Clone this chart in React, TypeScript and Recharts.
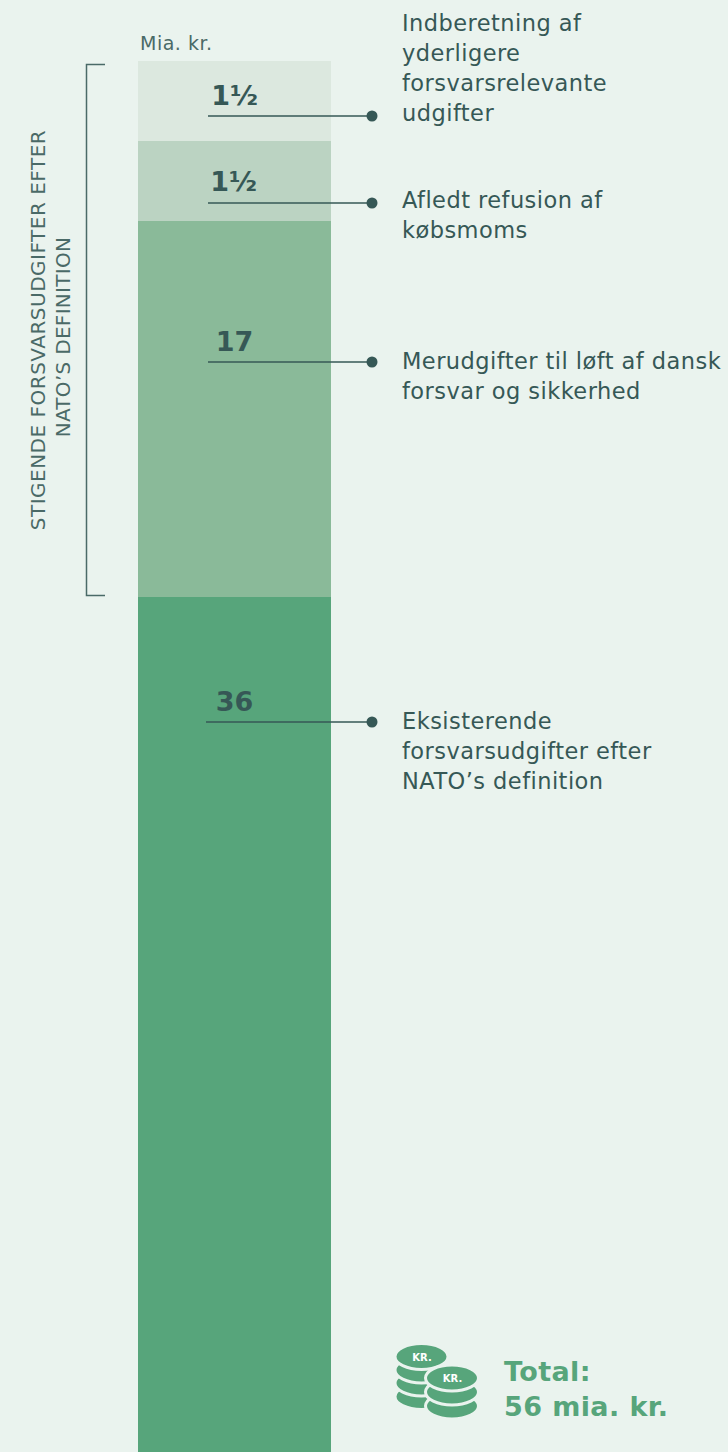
import { BarChart, Bar, XAxis, YAxis, LabelList } from 'recharts';

const categories = ['Forsvarsudgifter'];
const existing = [36];
const additional = [17];
const refund = [1.5];
const reported = [1.5];
const total = 56;

const valueLabels = { existing: '36', additional: '17', refund: '1½', reported: '1½' };
const noteLines = {
  existing: ['Eksisterende', 'forsvarsudgifter efter', 'NATO’s definition'],
  additional: ['Merudgifter til løft af dansk', 'forsvar og sikkerhed'],
  refund: ['Afledt refusion af', 'købsmoms'],
  reported: ['Indberetning af', 'yderligere', 'forsvarsrelevante', 'udgifter'],
};
const bracketLines = ['STIGENDE FORSVARSUDGIFTER EFTER', 'NATO’S DEFINITION'];

const data = categories.map((name, i) => ({
  name,
  existing: existing[i],
  additional: additional[i],
  refund: refund[i],
  reported: reported[i],
}));

const BG = '#eaf3ee';
const DARK = '#365856';
const SOFT = '#4a6a67';
const GREEN = '#57a57b';
const FONT = '"DejaVu Sans", sans-serif';

// the original graphic is not drawn to scale: small segments are stretched
const scaleStops = [0, 36, 53, 54.5, 56];
const scaleShares = [0, 855 / 1391, 1231 / 1391, 1311 / 1391, 1];

function makeScale(dom: number[] = [0, total], rng: number[] = [1, 0]) {
  const scale: any = (v: number) => {
    let i = 0;
    while (i < scaleStops.length - 2 && v > scaleStops[i + 1]) i++;
    const t = (v - scaleStops[i]) / (scaleStops[i + 1] - scaleStops[i]);
    const share = scaleShares[i] + t * (scaleShares[i + 1] - scaleShares[i]);
    return rng[0] + (rng[1] - rng[0]) * share;
  };
  scale.domain = (d?: number[]) => (d ? makeScale(d, rng) : dom);
  scale.range = (r?: number[]) => (r ? makeScale(dom, r) : rng);
  scale.copy = () => makeScale(dom, rng);
  scale.ticks = () => scaleStops;
  return scale;
}

type Key = keyof typeof valueLabels;

// offsets from the top of each segment, pixels
const annotationLayout: Record<Key, { line: number; value: number; start: number; dx: number; note: number }> = {
  reported: { line: 55, value: 44, start: 208, dx: 0, note: -30 },
  refund: { line: 62, value: 50, start: 208, dx: -1, note: 67 },
  additional: { line: 141, value: 130, start: 208, dx: 0, note: 148 },
  existing: { line: 125, value: 114, start: 206, dx: 0, note: 132 },
};

function annotation(key: Key) {
  return (props: any) => {
    const { x, y, width } = props;
    const a = annotationLayout[key];
    const lineY = y + a.line;
    return (
      <g>
        <text
          x={x + width / 2 + a.dx}
          y={y + a.value}
          textAnchor="middle"
          fontFamily={FONT}
          fontWeight="bold"
          fontSize={27}
          fill={DARK}
        >
          {valueLabels[key]}
        </text>
        <line x1={a.start} x2={372} y1={lineY} y2={lineY} stroke={DARK} strokeWidth={1.5} />
        <circle cx={372} cy={lineY} r={5.5} fill={DARK} />
        {noteLines[key].map((t, i) => (
          <text
            key={t}
            x={402}
            y={y + a.note + i * 30}
            fontFamily={FONT}
            fontSize={22.5}
            letterSpacing={0.45}
            fill={DARK}
          >
            {t}
          </text>
        ))}
      </g>
    );
  };
}

function Coin({ cx, cy }: { cx: number; cy: number }) {
  return <ellipse cx={cx} cy={cy} rx={26.5} ry={13} fill={GREEN} stroke={BG} strokeWidth={3} />;
}

function App() {
  return (
    <div style={{ position: 'absolute', left: 0, top: 0, width: 728, height: 1452, overflow: 'hidden', background: BG }}>
      <BarChart
        width={728}
        height={1452}
        data={data}
        barCategoryGap={0}
        margin={{ top: 61, right: 397, bottom: 0, left: 138 }}
      >
        <XAxis dataKey="name" hide />
        <YAxis hide type="number" domain={[0, total]} scale={makeScale()} />
        <Bar dataKey="existing" stackId="a" fill={GREEN} isAnimationActive={false}>
          <LabelList content={annotation('existing')} />
        </Bar>
        <Bar dataKey="additional" stackId="a" fill="#8aba99" isAnimationActive={false}>
          <LabelList content={annotation('additional')} />
        </Bar>
        <Bar dataKey="refund" stackId="a" fill="#bbd3c2" isAnimationActive={false}>
          <LabelList content={annotation('refund')} />
        </Bar>
        <Bar dataKey="reported" stackId="a" fill="#dce8df" isAnimationActive={false}>
          <LabelList content={annotation('reported')} />
        </Bar>

        <text x={140} y={50} fontFamily={FONT} fontSize={19} letterSpacing={0.5} fill={SOFT}>
          Mia. kr.
        </text>

        <path d="M105 64.5H86.5V595.5H105" fill="none" stroke={SOFT} strokeWidth={1.5} />
        <text
          transform="translate(45 330) rotate(-90)"
          textAnchor="middle"
          fontFamily={FONT}
          fontSize={20}
          letterSpacing={0.5}
          fill={SOFT}
        >
          {bracketLines[0]}
        </text>
        <text
          transform="translate(70 337) rotate(-90)"
          textAnchor="middle"
          fontFamily={FONT}
          fontSize={20}
          letterSpacing={0.3}
          fill={SOFT}
        >
          {bracketLines[1]}
        </text>

        <Coin cx={421.5} cy={1396.5} />
        <Coin cx={421.5} cy={1383} />
        <Coin cx={421.5} cy={1370} />
        <Coin cx={421.5} cy={1356.5} />
        <Coin cx={452} cy={1406} />
        <Coin cx={452} cy={1392} />
        <Coin cx={452} cy={1378} />
        <text x={422} y={1361} textAnchor="middle" fontFamily={FONT} fontWeight="bold" fontSize={10} fill="#fff">
          KR.
        </text>
        <text x={452.5} y={1382} textAnchor="middle" fontFamily={FONT} fontWeight="bold" fontSize={10} fill="#fff">
          KR.
        </text>

        <text x={504} y={1381} fontFamily={FONT} fontWeight="bold" fontSize={27} letterSpacing={0.4} fill={GREEN}>
          Total:
        </text>
        <text x={504} y={1416} fontFamily={FONT} fontWeight="bold" fontSize={27} letterSpacing={0.4} fill={GREEN}>
          56 mia. kr.
        </text>
      </BarChart>
    </div>
  );
}

export default App;
